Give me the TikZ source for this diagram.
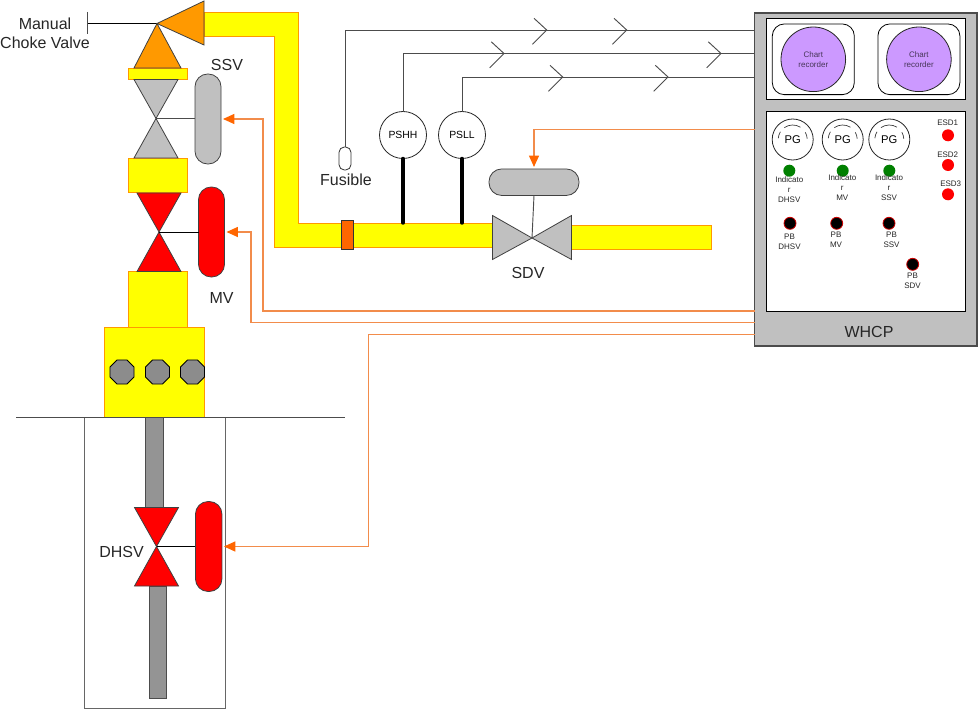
\documentclass[tikz,border=0pt]{standalone}
\usepackage{xcolor}
\usepackage{fontspec}
\setmainfont{Liberation Sans}
\usetikzlibrary{positioning,shapes.geometric,arrows.meta}
\definecolor{pipeyellow}{RGB}{255,255,0}
\definecolor{pipeedge}{RGB}{255,153,0}
\definecolor{chokeorange}{RGB}{255,153,0}
\definecolor{sigline}{RGB}{242,140,75}
\definecolor{sigtip}{RGB}{255,102,0}
\definecolor{valvegrey}{RGB}{192,192,192}
\definecolor{valvered}{RGB}{255,0,0}
\definecolor{chartpurple}{RGB}{204,153,255}
\definecolor{lampgreen}{RGB}{0,128,0}
\tikzset{
  boxsize/.style 2 args={minimum width=#1*0.75pt, minimum height=#2*0.75pt, inner sep=0pt, outer sep=0pt},
  pipebox/.style={draw=pipeedge, fill=pipeyellow, line width=0.75pt},
  greypipe/.style={draw=black!70, fill=black!42, line width=0.75pt},
  valve/.style={draw=black!75, line width=0.6pt, line join=miter},
  actuator/.style={draw=black!75, line width=0.6pt, rounded corners=9.5pt},
  gauge/.style={draw=black!85, fill=white, circle, inner sep=0pt, outer sep=0pt, line width=0.6pt},
  wire/.style={draw=black!70, line width=0.7pt},
  sig/.style={draw=sigline, line width=0.85pt, -{Triangle[length=8.5pt,width=7.5pt,color=sigtip]}, shorten >=1.5pt},
  stem/.style={line width=2.6pt, black, line cap=round},
  lamp/.style={circle, inner sep=0pt, outer sep=0pt, minimum size=9pt},
  lab/.style={inner sep=0pt, align=center, text=black!85, font=\fontsize{12}{14.4}\selectfont},
  tinylab/.style={inner sep=0pt, align=center, text=black!85, font=\fontsize{6}{7.4}\selectfont}
}
\begin{document}
\begin{tikzpicture}[x=0.75pt,y=-0.75pt]
  \useasboundingbox (0,0) rectangle (978,710);

  % Main pipe
  \draw[pipebox] (204,12.5) -- (298,12.5) -- (298,223) -- (494,223) -- (494,247)
    -- (274.5,247) -- (274.5,37) -- (204,37) -- cycle;
  \node[pipebox, boxsize={141}{23.5}] (outlet) at (640.5,237.7) {};
  \node[draw=black!80, fill=sigtip, line width=0.6pt, boxsize={12}{29}] (coupling) at (347.5,235) {};
  \coordinate (pipetop) at (0,223);

  % Wellbore
  \node[draw=black!60, line width=0.75pt, boxsize={141}{291}] (well) at (154.5,562.5) {};
  \node[greypipe, boxsize={18}{90}] (tubingup) at (154.5,462) {};
  \node[greypipe, boxsize={17}{112}] (tubingdown) at (157.5,642) {};
  \coordinate (groundl) at (16,417);
  \coordinate (groundr) at (345,417);

  % Wellhead blocks
  \node[pipebox, boxsize={59}{11}] (flange) at (157.5,74) {};
  \node[pipebox, boxsize={59}{34}] (bonnet) at (157.5,175) {};
  \node[pipebox, boxsize={59}{56}] (spool) at (157.5,299) {};
  \node[pipebox, boxsize={100}{90}] (tree) at (154.5,372) {};
  \foreach \x/\n in {122/a,157.5/b,192.5/c}{
    \node[draw=black, fill=black!45, line width=0.6pt, regular polygon, regular polygon sides=8,
          minimum size=26*0.75pt, inner sep=0pt] (bolt\n) at (\x,372) {};
  }
  \draw[wire] (groundl) -- (groundr);

  % Choke
  \coordinate (chokec) at (157,23.5);
  \coordinate (handle) at (87,23.5);
  \draw[draw=black, line width=0.7pt] (handle) -- (chokec);
  \draw[wire] (87,12) -- (87,34);
  \draw[valve, fill=chokeorange] (chokec) -- (204,1) -- (204,45) -- cycle;
  \draw[valve, fill=chokeorange] (chokec) -- (134,68) -- (181,68) -- cycle;
  \node[lab] (chokelab) at (45,33) {Manual\\Choke Valve};

  % Vertical valves
  \coordinate (ssvc) at (156,118.5);
  \coordinate (mvc) at (159,232);
  \coordinate (dhsvc) at (156.5,546.5);
  \foreach \v/\c in {ssvc/valvegrey,mvc/valvered,dhsvc/valvered}{
    \draw[valve, fill=\c] (\v) -- ([shift={(-22,-39)}]\v) -- ([shift={(22,-39)}]\v) -- cycle;
    \draw[valve, fill=\c] (\v) -- ([shift={(-22,39.5)}]\v) -- ([shift={(22,39.5)}]\v) -- cycle;
  }

  % Actuators
  \node[actuator, fill=valvegrey, boxsize={26}{90}] (ssvact) at (208,119) {};
  \node[actuator, fill=valvered, boxsize={26}{90}] (mvact) at (211.5,232) {};
  \node[actuator, fill=valvered, boxsize={26.5}{90}] (dhsvact) at (208.7,546.5) {};
  \node[actuator, fill=valvegrey, boxsize={90}{26.5}] (sdvact) at (534,182.2) {};
  \draw[wire] (ssvc) -- (ssvact.west |- ssvc);
  \draw[draw=black, line width=0.7pt] (mvc) -- (mvact.west);
  \draw[draw=black, line width=0.7pt] (dhsvc) -- (dhsvact.west);

  \node[lab] (ssvlab) at (227,65) {SSV};
  \node[lab] (mvlab) at (221.5,298) {MV};
  \node[lab] (dhsvlab) at (121.5,552) {DHSV};

  % SDV
  \coordinate (sdvc) at (532,238);
  \draw[wire] (sdvact.south) -- (sdvc);
  \draw[valve, fill=valvegrey] (sdvc) -- (492.5,215.5) -- (492.5,259.5) -- cycle;
  \draw[valve, fill=valvegrey] (sdvc) -- (571.5,215.5) -- (571.5,259.5) -- cycle;
  \node[lab] (sdvlab) at (528,273) {SDV};

  % WHCP panel
  \node[draw=black!70, fill=valvegrey, line width=0.9pt, boxsize={222.5}{333}] (whcp) at (865.75,179.5) {};
  \node[draw=black, fill=white, line width=0.75pt, boxsize={198.6}{81.7}] (chartpanel) at (866,59) {};
  \node[draw=black, fill=white, line width=0.75pt, boxsize={198.6}{199.3}, below=9pt of chartpanel] (gaugepanel) {};
  \node[lab] (whcplab) at (869,332) {WHCP};

  % Chart recorders
  \foreach \x/\n in {813.3/a,918.9/b}{
    \node[draw=black, line width=0.6pt, rounded corners=9pt, boxsize={82}{70.7}] (chartbox\n) at (\x,59.3) {};
    \node[gauge, fill=chartpurple, minimum size=64.6*0.75pt, align=center, text=black!65!chartpurple,
          font=\fontsize{6}{7.4}\selectfont] (chart\n) at (\x,59.3) {Chart\\recorder};
  }

  % Pressure gauges and lamps
  \foreach \x/\n in {792.7/a,842.7/b,889.3/c}{
    \node[gauge, minimum size=41*0.75pt, font=\fontsize{8.4}{10}\selectfont] (pg\n) at (\x,139.5) {PG};
    \draw[draw=black!80, line width=0.5pt] ([shift={(-30:14.5)}]pg\n.center) arc[start angle=-30, end angle=-3, radius=14.5];
    \draw[draw=black!80, line width=0.5pt] ([shift={(-125:14.5)}]pg\n.center) arc[start angle=-125, end angle=-58, radius=14.5];
    \draw[draw=black!80, line width=0.5pt] ([shift={(-175:14.5)}]pg\n.center) arc[start angle=-175, end angle=-148, radius=14.5];
  }
  \foreach \x/\n in {789.3/a,842.7/b,889.3/c}{
    \node[lamp, fill=lampgreen] (ind\n) at (\x,170.7) {};
  }
  \foreach \y/\n in {135.3/a,165/b,194.3/c}{
    \node[lamp, fill=valvered] (esd\n) at (948,\y) {};
  }
  \foreach \x/\y/\n in {790/223.3/a,836.7/223.3/b,889/223.3/c,912.7/264.3/d}{
    \node[lamp, fill=black, draw=valvered!80!black, line width=0.6pt] (pb\n) at (\x,\y) {};
  }
  \node[tinylab] (indlaba) at (789.3,189.5) {Indicato\\r\\DHSV};
  \node[tinylab] (indlabb) at (842.3,187.5) {Indicato\\r\\MV};
  \node[tinylab] (indlabc) at (889,187.5) {Indicato\\r\\SSV};
  \node[tinylab] (pblaba) at (789.5,242) {PB\\DHSV};
  \node[tinylab] (pblabb) at (836,240) {PB\\MV};
  \node[tinylab] (pblabc) at (891.5,240) {PB\\SSV};
  \node[tinylab] (pblabd) at (912.5,281) {PB\\SDV};
  \node[tinylab] (esdlaba) at (947.7,123) {ESD1};
  \node[tinylab] (esdlabb) at (947.7,154.3) {ESD2};
  \node[tinylab] (esdlabc) at (950.7,184) {ESD3};

  % Sensors and their lines
  \node[draw=black!80, fill=white, line width=0.6pt, rounded corners=4pt, boxsize={12}{23}] (fuse) at (345,158.5) {};
  \node[lab, below=3pt of fuse, xshift=0.75pt] (fuselab) {Fusible};
  \node[gauge, minimum size=47*0.75pt, font=\fontsize{7.8}{9}\selectfont] (pshh) at (403,135) {PSHH};
  \node[gauge, minimum size=47*0.75pt, font=\fontsize{7.8}{9}\selectfont] (psll) at (462,135) {PSLL};
  \draw[stem] (pshh.south) -- (pshh.south |- pipetop);
  \draw[stem] (psll.south) -- (psll.south |- pipetop);
  \draw[wire] (fuse.north) |- (whcp.west |- 0,30);
  \draw[wire] (pshh.north) |- (whcp.west |- 0,53.5);
  \draw[wire] (psll.north) |- (whcp.west |- 0,77);
  \foreach \x/\y in {546.7/30,626.7/30,504/53.5,721/53.5,562.7/77,668/77}{
    \draw[wire] (\x-12.7,\y-11.7) -- (\x,\y) -- (\x-14.3,\y+14.3);
  }

  % Signal lines from the panel
  \draw[sig] (whcp.west |- 0,129.5) -| (sdvact.north);
  \draw[sig] (whcp.west |- 0,311) -- (263,311) |- (ssvact.east);
  \draw[sig] (whcp.west |- 0,322.7) -- (251,322.7) |- (mvact.east);
  \draw[sig] (whcp.west |- 0,334.5) -- (368.5,334.5) |- (dhsvact.east);
\end{tikzpicture}
\end{document}
